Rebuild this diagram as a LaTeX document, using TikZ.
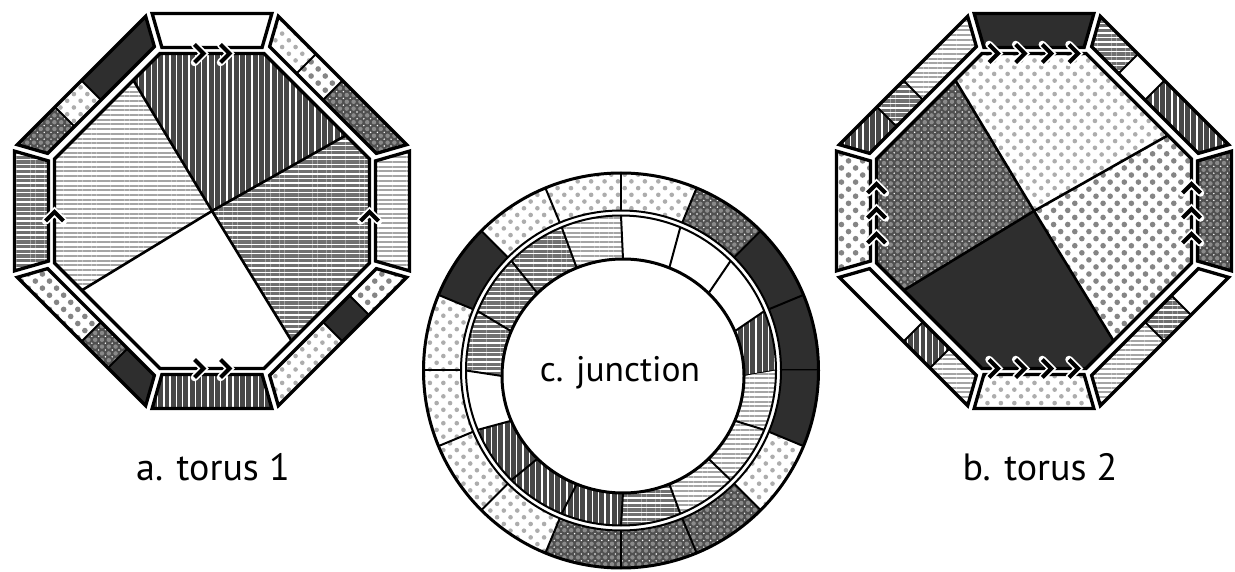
\documentclass[tikz,border=0pt]{standalone}
\usepackage{fontspec}
\setmainfont{PT Sans}
\usetikzlibrary{patterns.meta,calc}
\definecolor{cK}{HTML}{2E2E2E}
\definecolor{cVD}{HTML}{474747}
\definecolor{cHM}{HTML}{707070}
\definecolor{cHL}{HTML}{A5A5A5}
\definecolor{cDL}{HTML}{ADADAD}
\definecolor{cDM}{HTML}{858585}
\definecolor{cDD}{HTML}{505050}
\definecolor{cDDdot}{HTML}{8A8A8A}
\tikzset{
 W/.style={fill=white},
 K/.style={fill=cK},
 HL/.style={fill=white, postaction={pattern={Lines[angle=0,distance=4.7pt,line width=2pt]}, pattern color=cHL}},
 HM/.style={fill=white, postaction={pattern={Lines[angle=0,distance=4.7pt,line width=3.2pt]}, pattern color=cHM}},
 VD/.style={fill=cVD, postaction={pattern={Lines[angle=90,distance=6.3pt,line width=1.4pt]}, pattern color=white}},
 DL/.style={fill=white, postaction={pattern={Dots[distance=9.5pt,radius=2.3pt,angle=45]}, pattern color=cDL}},
 DM/.style={fill=white, postaction={pattern={Dots[distance=10pt,radius=2.8pt,angle=45]}, pattern color=cDM}},
 DD/.style={fill=cDD, postaction={pattern={Dots[distance=6.8pt,radius=2.2pt]}, pattern color=cDDdot}, postaction={pattern={Dots[distance=6.8pt,radius=0.8pt,xshift=3.4pt,yshift=3.4pt]}, pattern color=white}},
 piece/.style={draw=black,line width=3.3pt,line join=miter},
 chevw/.style={white,line width=7.5pt,line join=miter,line cap=round},
 chevk/.style={black,line width=4pt,line join=miter},
 lbl/.style={font=\fontsize{38}{44}\selectfont, inner sep=0pt},
 lblc/.style={font=\fontsize{35.5}{42}\selectfont, inner sep=0pt}
}
\newcommand\drawtorus[7]{%
\begin{scope}[shift={#1}]
 \begin{scope}
  \clip (52,157.5)--(157.5,52)--(157.5,-52)--(52,-157.5)--(-52,-157.5)--(-157.5,-52)--(-157.5,52)--(-52,157.5)--cycle;
  \fill[#4] (0,0)--(-231,384)--(393,384)--(393,222)--cycle;
  \fill[#5] (0,0)--(393,222)--(393,-387)--(237,-387)--cycle;
  \fill[#6] (0,0)--(237,-387)--(-384,-387)--(-384,-234)--cycle;
  \fill[#7] (0,0)--(-384,-234)--(-384,384)--(-231,384)--cycle;
  \draw[line width=2.6pt,line join=round] (-231,384)--(0,0)--(237,-387) (-384,-234)--(0,0)--(393,222);
 \end{scope}
 \draw[line width=3.2pt,line join=miter] (52,157.5)--(157.5,52)--(157.5,-52)--(52,-157.5)--(-52,-157.5)--(-157.5,-52)--(-157.5,52)--(-52,157.5)--cycle;
 \foreach \r/\f in {#2} {
  \fill[\f] ([rotate=\r]-59.86,197.5)--([rotate=\r]59.86,197.5)--([rotate=\r]50.09,163.5)--([rotate=\r]-50.09,163.5)--cycle;
  \draw[piece] ([rotate=\r]-59.86,197.5)--([rotate=\r]59.86,197.5)--([rotate=\r]50.09,163.5)--([rotate=\r]-50.09,163.5)--cycle;
 }
 \foreach \r/\fa/\fb/\fc in {#3} {
  \fill[\fa] ([rotate=\r]66.33,194.67)--([rotate=\r]104,157)--([rotate=\r]84.5,137.5)--([rotate=\r]57.62,164.38)--cycle;
  \fill[\fb] ([rotate=\r]104,157)--([rotate=\r]130.5,130.5)--([rotate=\r]111,111)--([rotate=\r]84.5,137.5)--cycle;
  \fill[\fc] ([rotate=\r]130.5,130.5)--([rotate=\r]194.67,66.33)--([rotate=\r]164.38,57.62)--([rotate=\r]111,111)--cycle;
  \draw[line width=2pt] ([rotate=\r]104,157)--([rotate=\r]84.5,137.5) ([rotate=\r]130.5,130.5)--([rotate=\r]111,111);
  \draw[piece] ([rotate=\r]66.33,194.67)--([rotate=\r]194.67,66.33)--([rotate=\r]164.38,57.62)--([rotate=\r]57.62,164.38)--cycle;
 }
\end{scope}}
\newcommand\chevR[1]{\draw[chevw] #1 ++(-5,9)--++(9,-9)--++(-9,-9); \draw[chevk] #1 ++(-5,9)--++(9,-9)--++(-9,-9);}
\newcommand\chevU[1]{\draw[chevw] #1 ++(-9,-5)--++(9,9)--++(9,-9); \draw[chevk] #1 ++(-9,-5)--++(9,9)--++(9,-9);}
\begin{document}
\begin{tikzpicture}[x=1pt,y=1pt]
\useasboundingbox (0,0) rectangle (1235,571);
\fill[white] (0,0) rectangle (1235,571);
% torus 1
\drawtorus{(212,360)}{0/W,270/HL,180/VD,90/HM}{0/DL/DM/DD,90/DD/DL/K,180/K/DD/DM,270/DM/K/DL}{VD}{HM}{W}{HL}
\foreach \x in {199.5,225.5} {\chevR{(\x,517.5)} \chevR{(\x,202.5)}}
\chevU{(54.5,355)} \chevU{(369.5,355)}
% torus 2
\drawtorus{(1034,360)}{0/K,270/DD,180/DL,90/DM}{0/HM/W/VD,90/VD/HM/HL,180/HL/VD/W,270/W/HM/HL}{DL}{DM}{K}{DD}
\foreach \x in {994,1020.7,1047.3,1074} {\chevR{(\x,517.5)} \chevR{(\x,202.5)}}
\foreach \y in {383,358,333} {\chevU{(876.5,\y)} \chevU{(1191.5,\y)}}
% junction
\begin{scope}[shift={(621,200.5)}]
 \foreach \a/\f in {0/K,22.5/K,45/DD,67.5/DL,90/DL,112.5/DL,135/K,157.5/DL,180/DL,202.5/DL,225/DL,247.5/DD,270/DD,292.5/DD,315/DL,337.5/K} {
  \fill[\f] (\a:160) arc[start angle=\a, end angle=\a+22.5, radius=160] -- ({\a+22.5}:197.5) arc[start angle=\a+22.5, end angle=\a, radius=197.5] -- cycle;
  \draw[line width=2pt] (\a:160) -- (\a:197.5);
 }
 \foreach \a/\f in {0/VD,22.5/W,45/W,67.5/W,90/HL,112.5/HM,135/HM,157.5/HM,180/W,202.5/VD,225/VD,247.5/VD,270/HM,292.5/HL,315/HL,337.5/HL} {
  \fill[\f] (\a:155) arc[start angle=\a, end angle=\a+22.5, radius=155] -- ($(2,-5.5)+({\a+22.5}:121 and 117)$) arc[start angle=\a+22.5, end angle=\a, x radius=121, y radius=117] -- cycle;
  \draw[line width=2pt] ($(2,-5.5)+(\a:121 and 117)$) -- (\a:155);
 }
 \draw[line width=3pt] (0,0) circle[radius=197.5];
 \draw[line width=2pt] (0,0) circle[radius=160];
 \draw[line width=2pt] (0,0) circle[radius=155];
 \draw[line width=3pt] (2,-5.5) ellipse[x radius=121, y radius=117];
\end{scope}
\node[lbl] (la) at (213,104) {a. torus 1};
\node[lbl] (lb) at (1040,104) {b. torus 2};
\node[lblc] (lc) at (620,198) {c. junction};
\end{tikzpicture}
\end{document}
